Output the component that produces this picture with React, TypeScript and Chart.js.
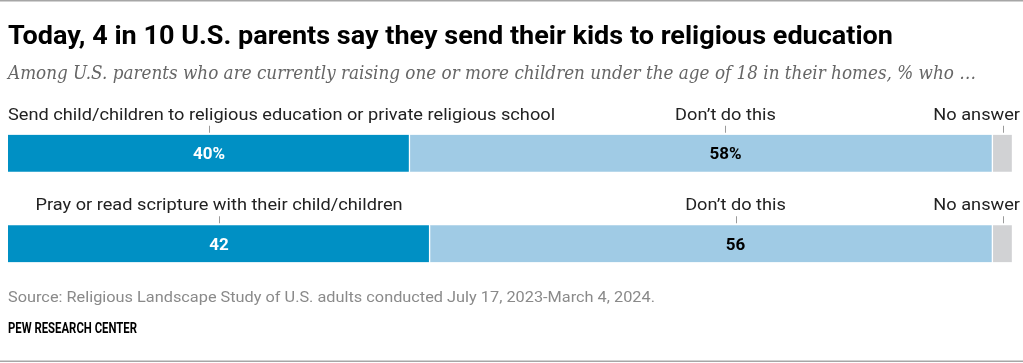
import React, { useEffect, useRef } from "react";
import { Chart, registerables } from "chart.js";

Chart.register(...registerables);

const TITLE = "Today, 4 in 10 U.S. parents say they send their kids to religious education";
const SUBTITLE = "Among U.S. parents who are currently raising one or more children under the age of 18 in their homes, % who …";
const SOURCE = "Source: Religious Landscape Study of U.S. adults conducted July 17, 2023-March 4, 2024.";
const CREDIT = "PEW RESEARCH CENTER";

const categories = [
  "Send child/children to religious education or private religious school",
  "Pray or read scripture with their child/children",
];
const seriesNames = ["Do this", "Don’t do this", "No answer"];
const doThis = [40, 42];
const dontDo = [58, 56];
const noAnswer = [2, 2];
const valueLabels = [
  ["40%", "58%", ""],
  ["42", "56", ""],
];

const COLORS = ["#0090C4", "#A0CBE5", "#D1D2D4"];
const SANS = "Roboto, 'Liberation Sans', sans-serif";
const SERIF = "'DejaVu Serif', Georgia, serif";

function fitText(
  ctx: CanvasRenderingContext2D,
  text: string,
  x: number,
  y: number,
  font: string,
  color: string,
  targetWidth: number | null,
  align: "left" | "center" | "right"
) {
  ctx.save();
  ctx.font = font;
  ctx.fillStyle = color;
  ctx.textBaseline = "alphabetic";
  const w = ctx.measureText(text).width;
  const sx = targetWidth ? targetWidth / w : 1;
  const drawW = w * sx;
  let left = x;
  if (align === "center") left = x - drawW / 2;
  if (align === "right") left = x - drawW;
  ctx.translate(left, y);
  ctx.scale(sx, 1);
  ctx.textAlign = "left";
  ctx.fillText(text, 0, 0);
  ctx.restore();
  return drawW;
}

const textPlugin = {
  id: "pewText",
  afterDraw(chart: any) {
    const ctx: CanvasRenderingContext2D = chart.ctx;
    const W = chart.width;
    const H = chart.height;
    const area = chart.chartArea;

    // frame lines
    ctx.save();
    ctx.fillStyle = "#A6A6A6";
    ctx.fillRect(0, 0, W, 1.5);
    ctx.fillRect(0, H - 2.5, W, 1.5);
    ctx.restore();

    fitText(ctx, TITLE, 8, 44, `bold 26px ${SANS}`, "#000", 885, "left");
    fitText(ctx, SUBTITLE, 8, 79, `italic 18px ${SERIF}`, "#666", 968, "left");
    fitText(ctx, SOURCE, 8, 302, `14px ${SANS}`, "#8A8A8A", 647, "left");
    fitText(ctx, CREDIT, 8, 333, `bold 14px ${SANS}`, "#000", 129, "left");

    const metas = [0, 1, 2].map((i) => chart.getDatasetMeta(i));
    const labelFont = `17px ${SANS}`;
    const labelColor = "#222";
    const lightShift = 24;

    categories.forEach((cat, j) => {
      const els = metas.map((m) => m.data[j].getProps(["x", "base", "y", "height"], true));
      const barTop = els[0].y - els[0].height / 2;
      const centers = els.map((e: any, i: number) => {
        const c = (e.x + e.base) / 2;
        return i === 1 ? c + lightShift : c;
      });

      // tick marks
      ctx.save();
      ctx.strokeStyle = "#9A9A9A";
      ctx.lineWidth = 1;
      centers.forEach((c: number) => {
        ctx.beginPath();
        ctx.moveTo(Math.round(c) + 0.5, barTop - 9);
        ctx.lineTo(Math.round(c) + 0.5, barTop - 2);
        ctx.stroke();
      });
      ctx.restore();

      // labels above
      const labels = [cat, seriesNames[1], seriesNames[2]];
      labels.forEach((lab, i) => {
        ctx.font = labelFont;
        const w = ctx.measureText(lab).width * 1.07;
        let left = centers[i] - w / 2;
        if (left < area.left) left = area.left;
        if (left + w > W - 3) left = W - 3 - w;
        fitText(ctx, lab, left, barTop - 15, labelFont, labelColor, w, "left");
      });

      // value labels
      valueLabels[j].forEach((v, i) => {
        if (!v) return;
        fitText(
          ctx,
          v,
          centers[i],
          els[i].y + 6,
          `bold 17px ${SANS}`,
          i === 0 ? "#fff" : "#000",
          null,
          "center"
        );
      });
    });
  },
};

export default function App() {
  const ref = useRef<HTMLCanvasElement | null>(null);
  useEffect(() => {
    document.body.style.margin = "0";
    const canvas = ref.current!;
    const chart = new Chart(canvas, {
      type: "bar",
      data: {
        labels: categories,
        datasets: [
          { label: seriesNames[0], data: doThis, backgroundColor: COLORS[0] },
          { label: seriesNames[1], data: dontDo, backgroundColor: COLORS[1] },
          { label: seriesNames[2], data: noAnswer, backgroundColor: COLORS[2] },
        ].map((d) => ({
          ...d,
          borderColor: "#ffffff",
          borderWidth: { right: 1.5, top: 0, bottom: 0, left: 0 },
          borderSkipped: false,
          barThickness: 37,
        })),
      },
      options: {
        indexAxis: "y",
        animation: false,
        responsive: false,
        devicePixelRatio: 1,
        layout: { padding: { left: 8, right: 10, top: 108, bottom: 74 } },
        scales: {
          x: { stacked: true, min: 0, max: 100, display: false },
          y: { stacked: true, display: false },
        },
        plugins: {
          legend: { display: false },
          tooltip: { enabled: false },
          title: { display: false },
        },
      },
      plugins: [textPlugin],
    } as any);
    return () => chart.destroy();
  }, []);
  return (
    <div style={{ width: 1023, height: 363, background: "#fff" }}>
      <canvas ref={ref} width={1023} height={363} style={{ display: "block" }} />
    </div>
  );
}
